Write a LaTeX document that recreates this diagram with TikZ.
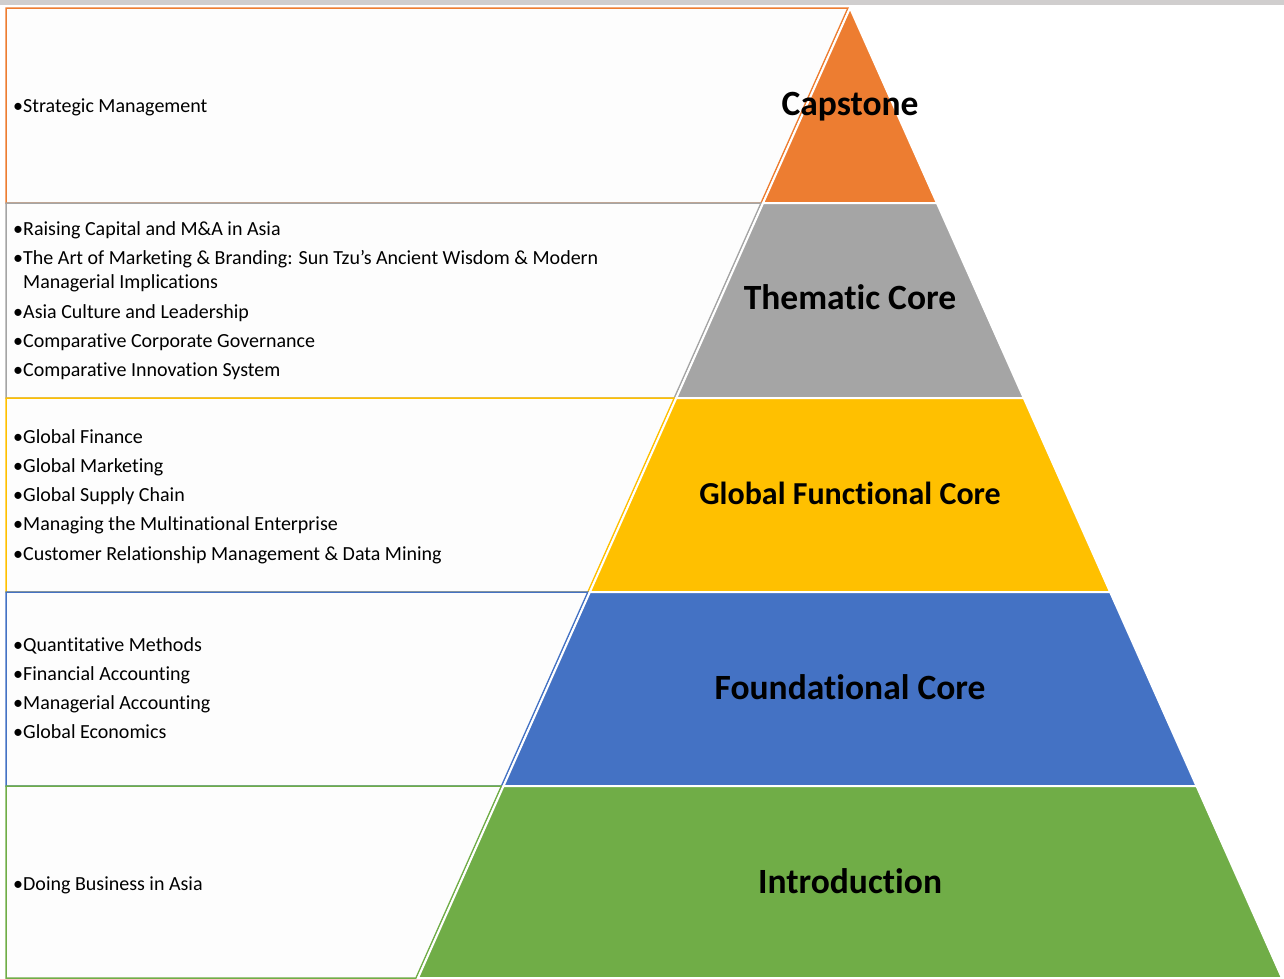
\documentclass[tikz,border=0pt]{standalone}
\usepackage{fontspec}
\setmainfont{Carlito}[Ligatures={NoCommon}]
\definecolor{cOrange}{HTML}{ED7D31}
\definecolor{cGray}{HTML}{A5A5A5}
\definecolor{cGold}{HTML}{FFC000}
\definecolor{cBlue}{HTML}{4472C4}
\definecolor{cGreen}{HTML}{70AD47}
\definecolor{cBand}{HTML}{D0CECE}
\definecolor{cBoxFill}{HTML}{FDFDFD}
\newcommand{\bul}{\makebox[10pt][l]{•}}
\begin{document}
\begin{tikzpicture}[x=1pt,y=-1pt,
  listbox/.style={line width=1.5pt, fill=cBoxFill},
  layer/.style={draw=white, line width=2pt},
  listtext/.style={anchor=base west, inner sep=0pt, align=left,
    font=\fontsize{20}{24.4}\selectfont},
  title/.style={anchor=base, inner sep=0pt, font=\fontsize{35.5}{42}\selectfont\bfseries}]
\useasboundingbox (0,0) rectangle (1284,978);
\fill[cBand] (0,0) rectangle (1284,5);
% left list boxes
\draw[listbox, draw=cOrange] (6,8) -- (848,8) -- (761.1,203) -- (6,203) -- cycle;
\draw[listbox, draw=cGray] (6,203) -- (761.1,203) -- (674.3,398) -- (6,398) -- cycle;
\draw[listbox, draw=cGold] (6,398) -- (674.3,398) -- (587.9,592) -- (6,592) -- cycle;
\draw[listbox, draw=cBlue] (6,592) -- (587.9,592) -- (501.5,786) -- (6,786) -- cycle;
\draw[listbox, draw=cGreen] (6,786) -- (501.5,786) -- (416,978) -- (6,978) -- cycle;
% pyramid layers
\filldraw[layer, fill=cOrange] (850,8) -- (936.9,203) -- (763.1,203) -- cycle;
\filldraw[layer, fill=cGray] (763.1,203) -- (936.9,203) -- (1023.7,398) -- (676.3,398) -- cycle;
\filldraw[layer, fill=cGold] (676.3,398) -- (1023.7,398) -- (1110.1,592) -- (589.9,592) -- cycle;
\filldraw[layer, fill=cBlue] (589.9,592) -- (1110.1,592) -- (1196.5,786) -- (503.5,786) -- cycle;
\filldraw[layer, fill=cGreen] (503.5,786) -- (1196.5,786) -- (1282,978) -- (418,978) -- cycle;
% titles
\node[title] (tCap) at (850,115) {Capstone};
\node[title] (tThem) at (850,309.5) {Thematic Core};
\node[title, font=\fontsize{32}{38}\selectfont\bfseries] (tGlob) at (850,504) {Global Functional Core};
\node[title] (tFound) at (850,699) {Foundational Core};
\node[title] (tIntro) at (850,893) {Introduction};
% lists (anchor = baseline of the last line)
\node[listtext] (lCap) at (13,112) {\bul Strategic Management};
\node[listtext] (lThem) at (13,376.6) {\bul Raising Capital and M\&A in Asia\\[4.9pt]
  \bul The Art of Marketing \& Branding: Sun Tzu’s Ancient Wisdom \& Modern\\
  \hspace*{10pt}Managerial Implications\\[4.9pt]
  \bul Asia Culture and Leadership\\[4.9pt]
  \bul Comparative Corporate Governance\\[4.9pt]
  \bul Comparative Innovation System};
\node[listtext] (lGlob) at (13,560.2) {\bul Global Finance\\[4.9pt]
  \bul Global Marketing\\[4.9pt]
  \bul Global Supply Chain\\[4.9pt]
  \bul Managing the Multinational Enterprise\\[4.9pt]
  \bul Customer Relationship Management \& Data Mining};
\node[listtext] (lFound) at (13,738.9) {\bul Quantitative Methods\\[4.9pt]
  \bul Financial Accounting\\[4.9pt]
  \bul Managerial Accounting\\[4.9pt]
  \bul Global Economics};
\node[listtext] (lIntro) at (13,890) {\bul Doing Business in Asia};
\end{tikzpicture}
\end{document}
